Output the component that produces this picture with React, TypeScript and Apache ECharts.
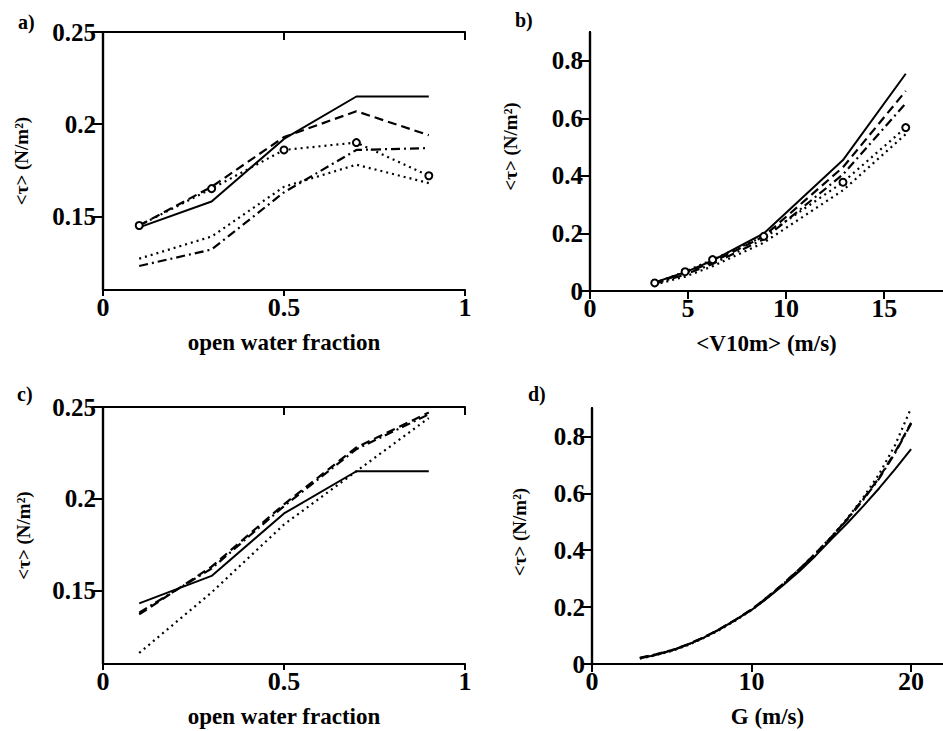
import React, { useEffect, useRef } from "react";
import * as echarts from "echarts";

// ---------- data ----------
const fracX = [0.1, 0.3, 0.5, 0.7, 0.9];
const aSolid = [0.144, 0.158, 0.192, 0.215, 0.215];
const aDashed = [0.145, 0.166, 0.193, 0.207, 0.194];
const aDotCircle = [0.145, 0.165, 0.186, 0.19, 0.172];
const aDashDot = [0.123, 0.132, 0.163, 0.186, 0.187];
const aDotted = [0.127, 0.139, 0.166, 0.178, 0.168];

const v10X = [3.3, 4.85, 6.25, 8.86, 12.9, 16.1];
const bSolid = [0.03, 0.065, 0.106, 0.2, 0.455, 0.755];
const bDashed = [0.028, 0.062, 0.1, 0.19, 0.43, 0.695];
const bDashDot = [0.025, 0.057, 0.094, 0.18, 0.405, 0.652];
const bDotCircle = [0.028, 0.067, 0.109, 0.19, 0.378, 0.568];
const bDotted = [0.022, 0.05, 0.086, 0.168, 0.35, 0.545];

const cSolid = [0.143, 0.158, 0.192, 0.215, 0.215];
const cDashed = [0.137, 0.163, 0.197, 0.228, 0.247];
const cDashDot = [0.138, 0.162, 0.196, 0.227, 0.246];
const cDotted = [0.116, 0.149, 0.186, 0.215, 0.244];

const gX = [3, 4, 5, 6, 7, 8, 9, 10, 11, 12, 13, 14, 15, 16, 17, 18, 19, 20];
const dSolid = [0.02, 0.032, 0.047, 0.068, 0.093, 0.122, 0.155, 0.19, 0.232, 0.278, 0.326, 0.38, 0.438, 0.495, 0.555, 0.618, 0.685, 0.755];
const dDashed = [0.022, 0.034, 0.049, 0.069, 0.094, 0.123, 0.156, 0.192, 0.236, 0.283, 0.334, 0.388, 0.446, 0.51, 0.58, 0.655, 0.745, 0.848];
const dDashDot = [0.021, 0.033, 0.048, 0.068, 0.093, 0.122, 0.155, 0.191, 0.235, 0.282, 0.333, 0.387, 0.445, 0.508, 0.577, 0.652, 0.742, 0.845];
const dDotted = [0.019, 0.031, 0.046, 0.066, 0.091, 0.12, 0.153, 0.189, 0.233, 0.281, 0.333, 0.388, 0.447, 0.512, 0.585, 0.668, 0.77, 0.9];

const fracTicks = [0, 0.5, 1];
const tauTicksAC = [0.15, 0.2, 0.25];
const v10Ticks = [0, 5, 10, 15];
const gTicks = [0, 10, 20];
const tauTicksBD = [0, 0.2, 0.4, 0.6, 0.8];

const yName = "<τ> (N/m²)";
const xNameFrac = "open water fraction";
const xNameV10 = "<V10m> (m/s)";
const xNameG = "G (m/s)";
const panelLabels = ["a)", "b)", "c)", "d)"];

// ---------- styles ----------
const FONT = "Times New Roman, Liberation Serif, DejaVu Serif, serif";
const DASH: Record<string, any> = {
  solid: "solid",
  dashed: [9, 5],
  dashdot: [9, 4, 2, 4],
  dotted: [2, 4],
};

function zip(xs: number[], ys: number[]) {
  return xs.map((x, i) => [x, ys[i]]);
}

export default function App() {
  const ref = useRef<HTMLDivElement>(null);
  useEffect(() => {
    if (!ref.current) return;
    const chart = echarts.init(ref.current, null, { renderer: "svg" });

    const grids = [
      { left: 103, top: 32, width: 362, height: 258 },
      { left: 590, top: 32, width: 362, height: 259 },
      { left: 103, top: 407, width: 362, height: 257 },
      { left: 592, top: 408, width: 360, height: 256 },
    ];
    const xCfg = [
      { min: 0, max: 1, ticks: fracTicks, name: xNameFrac },
      { min: 0, max: 18, ticks: v10Ticks, name: xNameV10 },
      { min: 0, max: 1, ticks: fracTicks, name: xNameFrac },
      { min: 0, max: 22, ticks: gTicks, name: xNameG },
    ];
    const yCfg = [
      { min: 0.11, max: 0.25, ticks: tauTicksAC, gap: 72, pad: [0, 0, 0, 0] },
      { min: 0, max: 0.9, ticks: tauTicksBD, gap: 70, pad: [0, 0, 0, 30] },
      { min: 0.11, max: 0.25, ticks: tauTicksAC, gap: 70, pad: [0, 0, 0, 0] },
      { min: 0, max: 0.9, ticks: tauTicksBD, gap: 63, pad: [0, 0, 0, 8] },
    ];

    const axisLine = { show: true, lineStyle: { color: "#000", width: 2.2 } };
    const xAxis: any[] = [];
    const yAxis: any[] = [];
    grids.forEach((_, i) => {
      const xc = xCfg[i];
      const yc = yCfg[i];
      xAxis.push({
        type: "value",
        gridIndex: i,
        position: "bottom",
        min: xc.min,
        max: xc.max,
        axisLine,
        splitLine: { show: false },
        axisTick: { show: true, inside: false, length: 6, customValues: xc.ticks, lineStyle: { color: "#000", width: 2 } },
        axisLabel: {
          customValues: xc.ticks,
          color: "#000",
          fontFamily: FONT,
          fontWeight: "bold",
          fontSize: 26,
          margin: 4,
        },
        name: xc.name,
        nameLocation: "middle",
        nameGap: 41,
        nameTextStyle: { color: "#000", fontFamily: FONT, fontWeight: "bold", fontSize: 23, verticalAlign: "top" },
      });
      xAxis.push({
        type: "value",
        gridIndex: i,
        position: "top",
        min: xc.min,
        max: xc.max,
        axisLine,
        splitLine: { show: false },
        axisTick: { show: true, inside: true, length: 8, customValues: xc.ticks, lineStyle: { color: "#000", width: 2 } },
        axisLabel: { show: false },
      });
      yAxis.push({
        type: "value",
        gridIndex: i,
        position: "left",
        min: yc.min,
        max: yc.max,
        axisLine,
        splitLine: { show: false },
        axisTick: { show: true, inside: false, length: 8, customValues: yc.ticks, lineStyle: { color: "#000", width: 2 } },
        axisLabel: {
          customValues: yc.ticks,
          color: "#000",
          fontFamily: FONT,
          fontWeight: "bold",
          fontSize: 25,
          margin: 7,
        },
        name: yName,
        nameLocation: "middle",
        nameGap: yc.gap,
        nameRotate: 90,
        nameTextStyle: { color: "#000", fontFamily: FONT, fontWeight: "bold", fontSize: 19, padding: yc.pad },
      });
      yAxis.push({
        type: "value",
        gridIndex: i,
        position: "right",
        min: yc.min,
        max: yc.max,
        axisLine,
        splitLine: { show: false },
        axisTick: { show: true, inside: true, length: 11, customValues: yc.ticks, lineStyle: { color: "#000", width: 2 } },
        axisLabel: { show: false },
      });
    });

    const mk = (i: number, xs: number[], ys: number[], style: string, circles = false) => ({
      type: "line",
      xAxisIndex: 2 * i,
      yAxisIndex: 2 * i,
      data: zip(xs, ys),
      symbol: circles ? "emptyCircle" : "none",
      symbolSize: 7,
      showSymbol: circles,
      itemStyle: { color: "#000", borderWidth: 2 },
      lineStyle: { color: "#000", width: style === "solid" ? 2 : 2.2, type: DASH[style] },
      silent: true,
      z: 3,
    });

    const series = [
      mk(0, fracX, aSolid, "solid"),
      mk(0, fracX, aDashed, "dashed"),
      mk(0, fracX, aDotCircle, "dotted", true),
      mk(0, fracX, aDashDot, "dashdot"),
      mk(0, fracX, aDotted, "dotted"),
      mk(1, v10X, bSolid, "solid"),
      mk(1, v10X, bDashed, "dashed"),
      mk(1, v10X, bDashDot, "dashdot"),
      mk(1, v10X, bDotCircle, "dotted", true),
      mk(1, v10X, bDotted, "dotted"),
      mk(2, fracX, cSolid, "solid"),
      mk(2, fracX, cDashed, "dashed"),
      mk(2, fracX, cDashDot, "dashdot"),
      mk(2, fracX, cDotted, "dotted"),
      mk(3, gX, dSolid, "solid"),
      mk(3, gX, dDashed, "dashed"),
      mk(3, gX, dDashDot, "dashdot"),
      mk(3, gX, dDotted, "dotted"),
    ];

    const labelPos = [
      [18, 12],
      [515, 10],
      [17, 384],
      [528, 384],
    ];
    const graphic = panelLabels.map((t, i) => ({
      type: "text",
      left: labelPos[i][0],
      top: labelPos[i][1],
      style: { text: t, fill: "#000", fontFamily: FONT, fontWeight: "bold", fontSize: 20 },
    }));

    chart.setOption({
      animation: false,
      backgroundColor: "#fff",
      grid: grids.map((g) => ({ ...g, containLabel: false })),
      xAxis,
      yAxis,
      series,
      graphic,
    });
    return () => chart.dispose();
  }, []);

  return (
    <div
      ref={ref}
      style={{ position: "fixed", left: 0, top: 0, width: 943, height: 731, background: "#fff" }}
    />
  );
}
